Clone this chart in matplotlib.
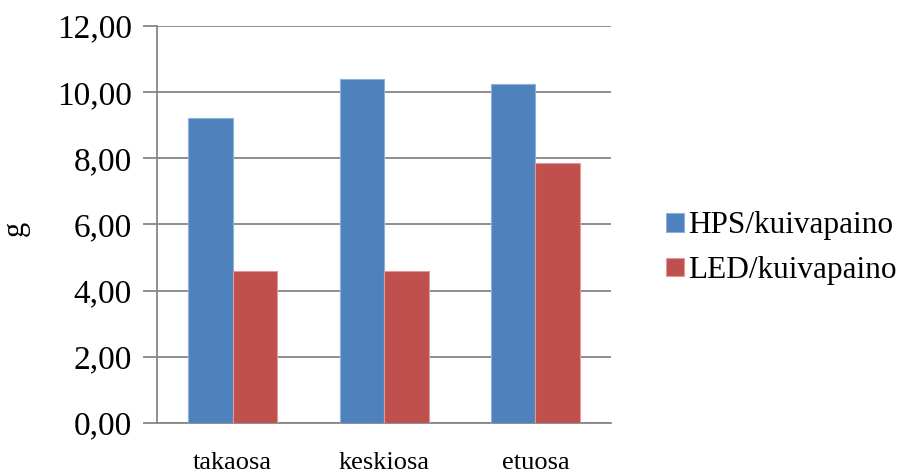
import numpy as np
import matplotlib.pyplot as plt
from matplotlib.ticker import FuncFormatter

# Kuivapainot osittain (g)
osat = ['takaosa', 'keskiosa', 'etuosa']
hps = [9.23, 10.41, 10.26]
led = [4.60, 4.60, 7.85]

plt.rcParams['font.family'] = ['Liberation Serif', 'DejaVu Serif']

fig = plt.figure(figsize=(9.07, 4.75), dpi=100)
ax = fig.add_axes([0.1731, 0.1095, 0.5006, 0.8358])

x = np.arange(len(osat))
w = 0.294
ax.bar(x - w / 2, hps, w, color='#4F81BD', edgecolor='#8DB0DD', linewidth=0.8,
       label='HPS/kuivapaino', zorder=3)
ax.bar(x + w / 2, led, w, color='#C0504D', edgecolor='#E09A98', linewidth=0.8,
       label='LED/kuivapaino', zorder=3)

ax.set_xlim(-0.5, 2.5)
ax.set_ylim(0, 12)
ax.set_yticks(np.arange(0, 13, 2))
ax.yaxis.set_major_formatter(FuncFormatter(lambda v, p: f'{v:.2f}'.replace('.', ',')))
ax.set_xticks(x)
ax.set_xticklabels(osat, fontsize=19)
ax.tick_params(axis='x', length=0, pad=21)
ax.tick_params(axis='y', labelsize=24, length=10, width=1.3, color='#868686', pad=8)

ax.grid(axis='y', color='#868686', linewidth=1.3, zorder=0)
for s in ['top', 'right']:
    ax.spines[s].set_visible(False)
for s in ['left', 'bottom']:
    ax.spines[s].set_color('#868686')
    ax.spines[s].set_linewidth(1.3)

ax.set_ylabel('g', fontsize=22)
ax.yaxis.set_label_coords(-0.28, 0.49)

ax.legend(loc='center left', bbox_to_anchor=(1.06, 0.44), frameon=False,
          fontsize=22.5, handlelength=0.55, handleheight=0.55, handletextpad=0.15,
          labelspacing=0.5)

fig.savefig('out.png', dpi=100)
